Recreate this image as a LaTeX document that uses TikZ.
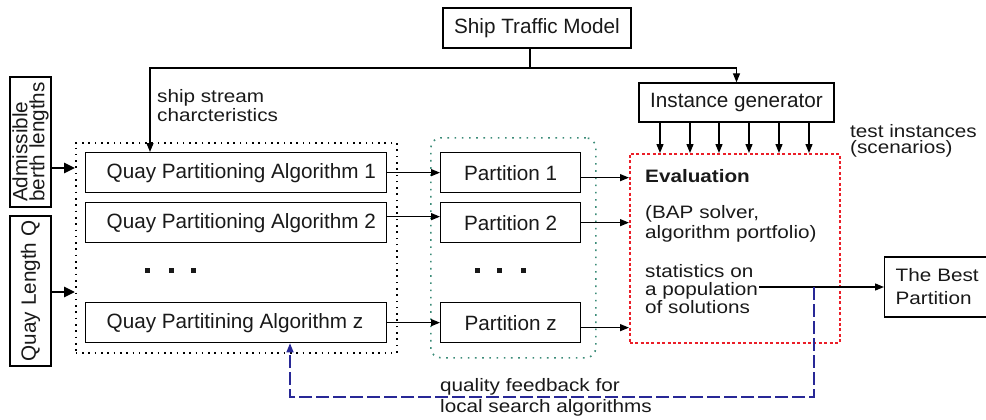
\documentclass[tikz,border=0pt]{standalone}
\usepackage{fontspec}
\setmainfont{Liberation Sans}
\newfontfamily\lblfont[FakeStretch=1.15]{Liberation Sans}
\usetikzlibrary{arrows.meta,calc}
\definecolor{dotgreen}{RGB}{60,140,120}
\definecolor{dotred}{RGB}{235,30,40}
\definecolor{fbblue}{RGB}{40,40,150}
\newcommand\qpatext[1]{\makebox[301pt][l]{\hspace{21pt}#1}}
\newcommand\dgmfont[1]{\fontsize{20.7}{#1}\selectfont\lineskiplimit=-60pt\relax}
\newcommand\lblfnt[1]{\lblfont\fontsize{18}{#1}\selectfont\lineskiplimit=-60pt\relax}
\begin{document}
\begin{tikzpicture}[x=1pt,y=-1pt,
  every node/.style={font=\dgmfont{19}, text=black!90},
  box/.style={draw, line width=1.3pt, inner sep=0pt},
  qpabox/.style={box, minimum height=40pt, anchor=north west},
  partbox/.style={box, minimum width=140pt, minimum height=40pt, anchor=north west},
  lbl/.style={anchor=north west, align=left, inner sep=0pt},
  arr/.style={line width=1.3pt, -{Triangle[length=9pt,width=7pt]}},
  thickarr/.style={line width=2.6pt, -{Triangle[length=11pt,width=10pt]}},
  blackdots/.style={draw, line width=1.6pt, dash pattern=on 1.6pt off 4.7pt, inner sep=0pt},
  greendots/.style={draw=dotgreen, line width=1.6pt, dash pattern=on 1.6pt off 5.6pt, rounded corners=10pt, inner sep=0pt},
  reddots/.style={draw=dotred, line width=1.5pt, dash pattern=on 3pt off 2.4pt, inner sep=0pt},
  fbline/.style={draw=fbblue, line width=1.3pt, dash pattern=on 13pt off 4pt, -{Triangle[length=9pt,width=7pt]}},
  dotsq/.style={fill=black!90, minimum size=5pt, inner sep=0pt}
]
\useasboundingbox (0,0) rectangle (986,420);

% group frames
\node[blackdots, anchor=north west, minimum width=321pt, minimum height=210pt] (alg) at (75,142) {};
\node[greendots, anchor=north west, minimum width=165pt, minimum height=220pt] (prt) at (430,137) {};
\node[reddots, anchor=north west, minimum width=210pt, minimum height=189pt] (ev) at (629,153) {};

% top boxes
\node[box, minimum width=188pt, minimum height=40pt] (stm) at (537,28) {Ship Traffic Model};
\node[box, minimum width=195pt, minimum height=39pt] (ig) at (736.5,102.5) {Instance generator};

% left input boxes
\node[box, rotate=90, align=left, minimum width=130pt, minimum height=41pt] (adm) at (30.5,142) {Admissible\\[-2pt]berth lengths};
\node[box, rotate=90, minimum width=150pt, minimum height=41pt] (ql) at (30.5,291) {Quay Length Q};

% algorithms
\node[qpabox] (qp1) at (85,152) {\qpatext{Quay Partitioning Algorithm 1}};
\node[qpabox] (qp2) at (85,202) {\qpatext{Quay Partitioning Algorithm 2}};
\node[qpabox] (qpz) at (85,302) {\qpatext{Quay Partitining Algorithm z}};

% partitions
\node[partbox] (p1) at (440,152) {Partition 1};
\node[partbox] (p2) at (440,202) {Partition 2};
\node[partbox] (pz) at (440,302) {Partition z};

% ellipsis dots
\foreach \n/\x in {a/147,b/171,c/193,d/477,e/499,f/523}
  \node[dotsq] (dot\n) at (\x,270) {};

% best partition
\node[box, anchor=west, align=left, text width=95pt, inner xsep=11pt, minimum height=60pt, font=\lblfnt{23}] (bp) at (884,287) {The Best\\Partition};

% labels
\node[lbl, font=\lblfnt{19}] (ssc) at (157,89) {ship stream\\charcteristics};
\node[lbl, font=\lblfnt{16.5}] (ti) at (850,124) {test instances\\(scenarios)};
\node[lbl, font=\lblfnt{19}] (evt) at (645,169) {\textbf{Evaluation}\\[17pt](BAP solver,\\[1pt]algorithm portfolio)\\[20pt]statistics on\\[-1pt]a population\\[-1pt]of solutions};
\node[lbl, font=\lblfnt{21}] (qf) at (440,378) {quality feedback for\\local search algorithms};

% ship traffic model connections
\coordinate (split) at (530,68);
\coordinate (qin) at ($(qp1.north west)+(65,0)$);
\draw[line width=1.3pt] (split |- stm.south) -- (split);
\draw[arr] (split) -| (qin);
\draw[arr] (split) -| (ig.north);

% instance generator -> evaluation
\foreach \x in {660,690,719,749,779,809}
  \draw[arr] (ig.south -| \x,0) -- (ev.north -| \x,0);

% inputs
\coordinate (admo) at (51,168);
\coordinate (qlo) at (51,292);
\draw[thickarr] (admo) -- (admo -| alg.west);
\draw[thickarr] (qlo) -- (qlo -| alg.west);

% algorithms -> partitions
\draw[arr] (qp1.east) -- (p1.west);
\coordinate (q2o) at ([yshift=6pt]qp2.east);
\draw[arr] (q2o) -- (q2o -| p2.west);
\draw[arr] (qpz.east) -- (pz.west);

% partitions -> evaluation
\coordinate (p1o) at ([yshift=-5pt]p1.east);
\coordinate (pzo) at ([yshift=-5pt]pz.east);
\draw[arr] (p1o) -- (p1o -| ev.west);
\draw[arr] (p2.east) -- (p2.east -| ev.west);
\draw[arr] (pzo) -- (pzo -| ev.west);

% evaluation -> best partition
\coordinate (pop) at (759,287);
\draw[arr] (pop) -- (bp.west);

% feedback
\coordinate (fbj) at (814,287);
\coordinate (fbl) at (290,397);
\coordinate (qzin) at ($(qpz.south west)+(205,0)$);
\draw[fbline] (fbj) |- (fbl) -- (qzin);
\end{tikzpicture}
\end{document}
